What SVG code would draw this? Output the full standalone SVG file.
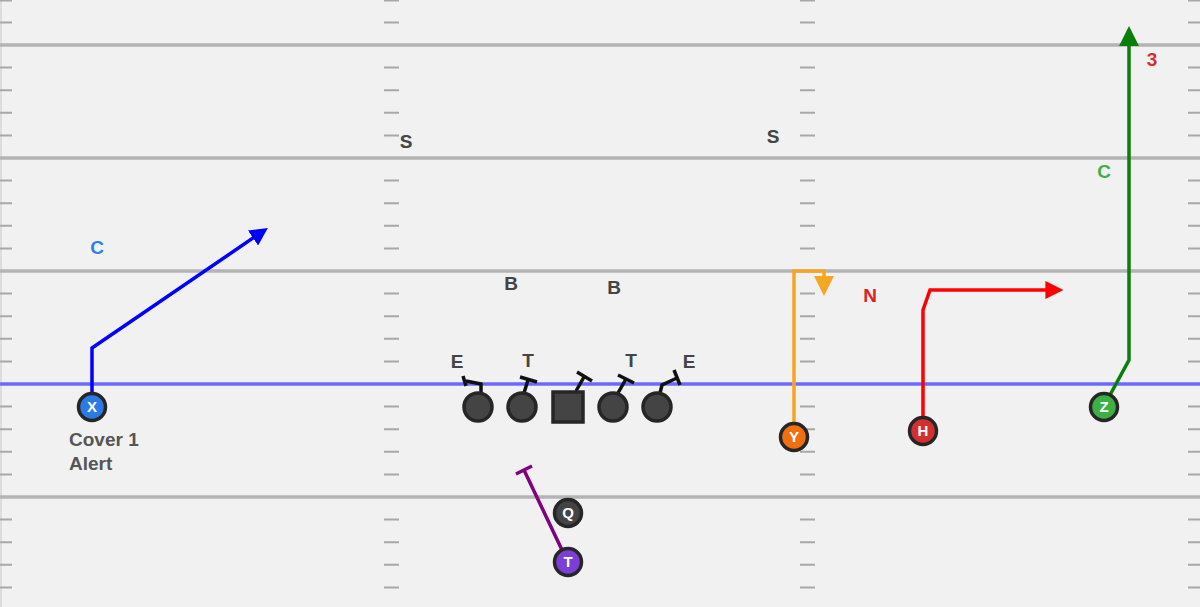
<svg xmlns="http://www.w3.org/2000/svg" width="1200" height="607" viewBox="0 0 1200 607">
<defs>
<style>
.hash{stroke:#a8a8a8;stroke-width:2;fill:none}
.yard{stroke:#b4b4b4;stroke-width:3.5;fill:none}
.pl{stroke:#262626;stroke-width:3.5}
.lbl{font-family:"Liberation Sans",Arial,sans-serif;font-weight:bold;text-anchor:middle;font-size:19px}
.nl{font-family:"Liberation Sans",Arial,sans-serif;font-weight:bold;font-size:15px;fill:#fff;text-anchor:middle}
.blk{stroke:#111;stroke-width:3.5;fill:none;stroke-linejoin:miter}
.rt{fill:none;stroke-width:3.5;stroke-linejoin:miter}
</style>
<marker id="aBlue" viewBox="0 0 10 10" refX="2" refY="5" markerWidth="18" markerHeight="18" markerUnits="userSpaceOnUse" orient="auto"><path d="M0,0L10,5L0,10z" fill="#0000ff"/></marker>
<marker id="aRed" viewBox="0 0 10 10" refX="2" refY="5" markerWidth="18" markerHeight="18" markerUnits="userSpaceOnUse" orient="auto"><path d="M0,0L10,5L0,10z" fill="#ff0000"/></marker>
<marker id="aGreen" viewBox="0 0 10 10" refX="2" refY="5" markerWidth="20" markerHeight="20" markerUnits="userSpaceOnUse" orient="auto"><path d="M0,0L10,5L0,10z" fill="#0a7d0a"/></marker>
<marker id="aOrange" viewBox="0 0 10 10" refX="2" refY="5" markerWidth="20" markerHeight="20" markerUnits="userSpaceOnUse" orient="auto"><path d="M0,0L10,5L0,10z" fill="#f5a623"/></marker>
</defs>
<rect width="1200" height="607" fill="#f1f1f1"/>
<g id="field">
<line x1="1" y1="0" x2="1" y2="607" stroke="#c8c8c8" stroke-width="1"/>
<path class="hash" d="M0,0.5H12M0,22.4H12M0,67.6H12M0,90.2H12M0,112.8H12M0,135.4H12M0,180.6H12M0,203.2H12M0,225.8H12M0,248.4H12M0,293.6H12M0,316.2H12M0,338.8H12M0,361.4H12M0,406.6H12M0,429.2H12M0,451.8H12M0,474.4H12M0,519.6H12M0,542.2H12M0,564.8H12M0,587.4H12"/>
<path class="hash" d="M384,0.5H399M384,22.4H399M384,67.6H399M384,90.2H399M384,112.8H399M384,135.4H399M384,180.6H399M384,203.2H399M384,225.8H399M384,248.4H399M384,293.6H399M384,316.2H399M384,338.8H399M384,361.4H399M384,406.6H399M384,429.2H399M384,451.8H399M384,474.4H399M384,519.6H399M384,542.2H399M384,564.8H399M384,587.4H399"/>
<path class="hash" d="M800,0.5H815M800,22.4H815M800,67.6H815M800,90.2H815M800,112.8H815M800,135.4H815M800,180.6H815M800,203.2H815M800,225.8H815M800,248.4H815M800,293.6H815M800,316.2H815M800,338.8H815M800,361.4H815M800,406.6H815M800,429.2H815M800,451.8H815M800,474.4H815M800,519.6H815M800,542.2H815M800,564.8H815M800,587.4H815"/>
<path class="hash" d="M1188,0.5H1200M1188,22.4H1200M1188,67.6H1200M1188,90.2H1200M1188,112.8H1200M1188,135.4H1200M1188,180.6H1200M1188,203.2H1200M1188,225.8H1200M1188,248.4H1200M1188,293.6H1200M1188,316.2H1200M1188,338.8H1200M1188,361.4H1200M1188,406.6H1200M1188,429.2H1200M1188,451.8H1200M1188,474.4H1200M1188,519.6H1200M1188,542.2H1200M1188,564.8H1200M1188,587.4H1200"/>
<path class="yard" d="M0,45H1200M0,158H1200M0,271H1200M0,497H1200"/>
<line x1="0" y1="384" x2="1200" y2="384" stroke="#6a6aff" stroke-width="3.5"/>
</g>
<g id="connectors">
<path class="rt" stroke="#0000ff" d="M92,394V348L256,236" marker-end="url(#aBlue)"/>
<path class="rt" stroke="#f5a623" d="M794,424V271H824V280" marker-end="url(#aOrange)"/>
<path class="rt" stroke="#ff0000" d="M923,418V310L930,290H1049" marker-end="url(#aRed)"/>
<path class="rt" stroke="#0a7d0a" d="M1110,395L1129,360V42" marker-end="url(#aGreen)"/>
<path class="rt" stroke="#800080" stroke-width="3" d="M562,550L524,470M516,474L532,466"/>
<path class="blk" d="M481,393V384L466,381M463,376L466,386"/>
<path class="blk" d="M524,393L528,380M520,377L537,382"/>
<path class="blk" d="M576,391L584,377M577,372L592,381"/>
<path class="blk" d="M618,393L626,379M618,375L634,383"/>
<path class="blk" d="M660,393L662,385L677,378M674,370L680,385"/>
</g>
<g id="labels">
<text class="lbl" x="406" y="148" fill="#444">S</text>
<text class="lbl" x="773" y="143" fill="#444">S</text>
<text class="lbl" x="511" y="290" fill="#444">B</text>
<text class="lbl" x="614" y="294" fill="#444">B</text>
<text class="lbl" x="97" y="254" fill="#2f7fe8">C</text>
<text class="lbl" x="870" y="302" fill="#dd2222">N</text>
<text class="lbl" x="1104" y="178" fill="#3cb043">C</text>
<text class="lbl" x="1152" y="66" fill="#d32f2f">3</text>
<text class="lbl" x="457" y="368" fill="#444">E</text>
<text class="lbl" x="528" y="367" fill="#444">T</text>
<text class="lbl" x="631" y="367" fill="#444">T</text>
<text class="lbl" x="689" y="368" fill="#444">E</text>
<text class="lbl" x="69" y="446" fill="#555" style="text-anchor:start">Cover 1</text>
<text class="lbl" x="69" y="470" fill="#555" style="text-anchor:start">Alert</text>
</g>
<g id="node-X"><circle class="pl" cx="92" cy="407" r="13.5" fill="#2a7be4"/><text class="nl" x="92" y="412">X</text></g>
<g id="node-LE"><circle class="pl" cx="478" cy="407" r="14" fill="#444"/></g>
<g id="node-LT"><circle class="pl" cx="522" cy="407" r="14" fill="#444"/></g>
<g id="node-C"><rect class="pl" x="553" y="392" width="30" height="30" fill="#444"/></g>
<g id="node-RT"><circle class="pl" cx="613" cy="407" r="14" fill="#444"/></g>
<g id="node-RE"><circle class="pl" cx="657" cy="407" r="14" fill="#444"/></g>
<g id="node-Y"><circle class="pl" cx="794" cy="437" r="13.5" fill="#f07010"/><text class="nl" x="794" y="442">Y</text></g>
<g id="node-H"><circle class="pl" cx="923" cy="431" r="13.5" fill="#d32f2f"/><text class="nl" x="923" y="436">H</text></g>
<g id="node-Z"><circle class="pl" cx="1104" cy="407" r="13.5" fill="#3cb043"/><text class="nl" x="1104" y="412">Z</text></g>
<g id="node-Q"><circle class="pl" cx="568" cy="513" r="13.5" fill="#444"/><text class="nl" x="568" y="518">Q</text></g>
<g id="node-T"><circle class="pl" cx="568" cy="562" r="13.5" fill="#7b3fd8"/><text class="nl" x="568" y="567">T</text></g>
</svg>
